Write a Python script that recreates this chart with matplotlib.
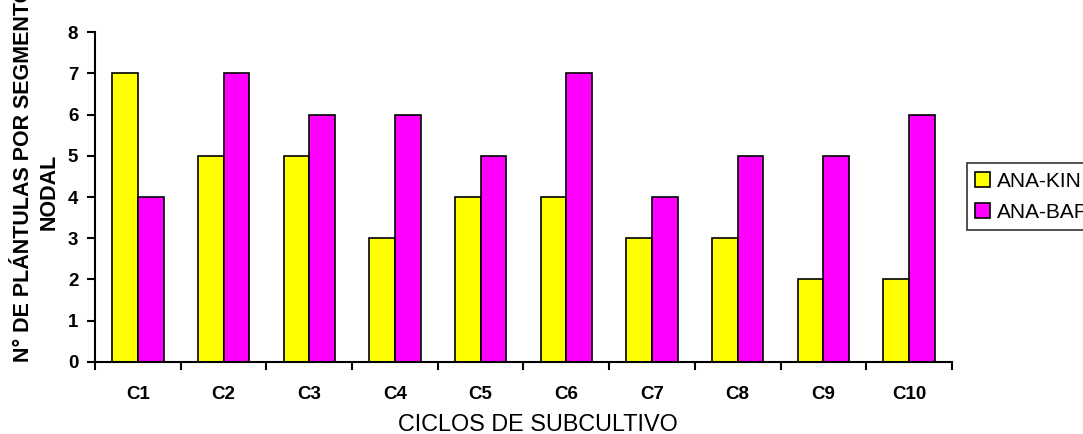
import matplotlib.pyplot as plt
import numpy as np

plt.rcParams['font.family'] = ['Liberation Sans', 'DejaVu Sans']

# data
ciclos = ['C1', 'C2', 'C3', 'C4', 'C5', 'C6', 'C7', 'C8', 'C9', 'C10']
ana_kin = [7, 5, 5, 3, 4, 4, 3, 3, 2, 2]
ana_bap = [4, 7, 6, 6, 5, 7, 4, 5, 5, 6]

fig = plt.figure(figsize=(10.83, 4.34), dpi=100)
ax = fig.add_axes([0.0877, 0.166, 0.7913, 0.760])

x = np.arange(len(ciclos))
w = 0.3
ax.bar(x - w / 2, ana_kin, w, color='#ffff00', edgecolor='black', linewidth=1.2, label='ANA-KIN')
ax.bar(x + w / 2, ana_bap, w, color='#ff00ff', edgecolor='black', linewidth=1.2, label='ANA-BAP')

ax.set_xlim(-0.5, len(ciclos) - 0.5)
ax.set_ylim(0, 8)
ax.set_yticks(range(0, 9))
ax.set_yticklabels([str(v) for v in range(0, 9)], fontsize=13.5, fontweight='bold')

# category labels in the middle, ticks on the boundaries
ax.set_xticks(x)
ax.set_xticklabels(ciclos, fontsize=13.5, fontweight='bold')
ax.tick_params(axis='x', which='major', length=0, pad=17)
ax.set_xticks(np.arange(-0.5, len(ciclos), 1), minor=True)
ax.tick_params(axis='x', which='minor', length=6, width=1.5, direction='out')
ax.tick_params(axis='y', length=6, width=1.5, direction='out', pad=6)

for s in ['top', 'right']:
    ax.spines[s].set_visible(False)
for s in ['left', 'bottom']:
    ax.spines[s].set_linewidth(1.5)

ax.set_xlabel('CICLOS DE SUBCULTIVO', fontsize=16.8, labelpad=6)
ax.xaxis.set_label_coords(0.517, -0.19)
ax.xaxis.label.set_va('center')

# y label is cut at the top in the original, as here
fig.text(0.022, 0.60, 'N° DE PLÁNTULAS POR SEGMENTO', rotation=90, fontsize=15.5,
         fontweight='bold', ha='center', va='center')
fig.text(0.045, 0.558, 'NODAL', rotation=90, fontsize=15.5,
         fontweight='bold', ha='center', va='center')

leg = fig.legend(loc='upper left', bbox_to_anchor=(0.893, 0.624), fontsize=15,
                 frameon=True, fancybox=False, edgecolor='black',
                 handlelength=0.7, handleheight=0.7, handletextpad=0.35,
                 borderpad=0.4, labelspacing=0.6, borderaxespad=0)
leg.get_frame().set_linewidth(1.2)

fig.savefig('out.png', dpi=100)
